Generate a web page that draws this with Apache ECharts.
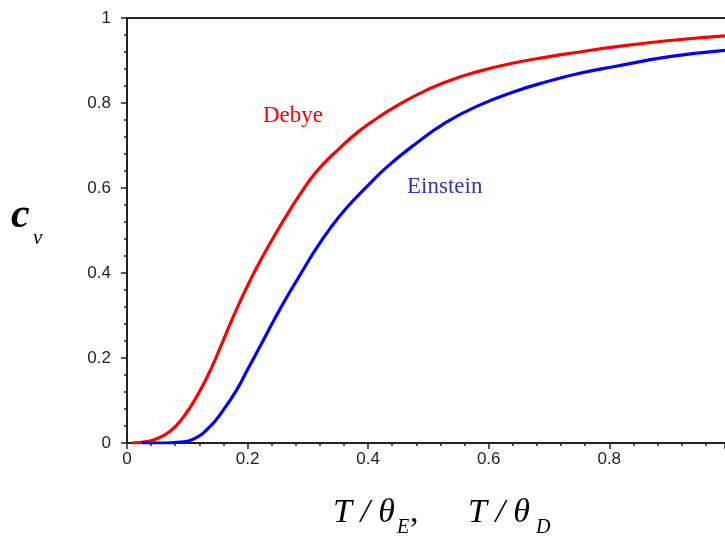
<!DOCTYPE html>
<html>
<head>
<meta charset="utf-8">
<script src="https://cdn.jsdelivr.net/npm/echarts@6/dist/echarts.min.js"></script>
<style>html,body{margin:0;padding:0;background:#fff;}#c{width:725px;height:545px;}</style>
</head>
<body>
<div id="c"></div>
<script>
// Values
var debyeT  = [0.008, 0.02, 0.03, 0.044, 0.071, 0.093, 0.116, 0.138, 0.154, 0.176, 0.199, 0.221, 0.237, 0.265, 0.287, 0.314, 0.353, 0.386, 0.42, 0.475, 0.53, 0.585, 0.641, 0.696, 0.751, 0.809, 0.9, 0.992];
var debyeCv = [0.0, 0.001, 0.003, 0.007, 0.027, 0.060, 0.110, 0.170, 0.222, 0.296, 0.367, 0.428, 0.469, 0.536, 0.585, 0.638, 0.694, 0.735, 0.769, 0.815, 0.850, 0.875, 0.894, 0.908, 0.920, 0.932, 0.947, 0.958];
var einsteinT  = [0.025, 0.06, 0.088, 0.11, 0.138, 0.16, 0.182, 0.199, 0.221, 0.243, 0.265, 0.292, 0.309, 0.337, 0.364, 0.397, 0.43, 0.475, 0.53, 0.585, 0.641, 0.696, 0.751, 0.809, 0.9, 0.992];
var einsteinCv = [0.0, 0.0, 0.002, 0.009, 0.039, 0.078, 0.125, 0.170, 0.228, 0.287, 0.343, 0.407, 0.447, 0.505, 0.553, 0.602, 0.648, 0.700, 0.755, 0.795, 0.826, 0.850, 0.870, 0.886, 0.909, 0.924];
var xMin = 0, xMax = 0.992, xStep = 0.2;
var yMin = 0, yMax = 1, yStep = 0.2;

function pairs(xs, ys){ return xs.map(function(x,i){ return [x, ys[i]]; }); }

var chart = echarts.init(document.getElementById('c'));
var labelFont = {fontFamily:'Liberation Sans, Arial, sans-serif', fontSize:17, color:'#222'};
var serif = 'Liberation Serif, Times New Roman, serif';
chart.setOption({
  animation:false,
  backgroundColor:'#fff',
  grid:{left:127, top:18, right:0, bottom:102, containLabel:false},
  xAxis:[{
    type:'value', min:xMin, max:xMax, interval:xStep, position:'bottom',
    axisLine:{show:true, onZero:false, lineStyle:{color:'#222', width:2}},
    axisTick:{show:true, length:6, lineStyle:{color:'#222', width:1.5}},
    minorTick:{show:true, splitNumber:5, length:3, lineStyle:{color:'#222', width:1.5}},
    splitLine:{show:false},
    axisLabel:Object.assign({margin:8, showMaxLabel:false}, labelFont)
  },{
    type:'value', min:xMin, max:xMax, position:'top',
    axisLine:{show:true, onZero:false, lineStyle:{color:'#222', width:2}},
    axisTick:{show:false}, axisLabel:{show:false}, splitLine:{show:false}
  }],
  yAxis:{
    type:'value', min:yMin, max:yMax, interval:yStep,
    axisLine:{show:true, lineStyle:{color:'#222', width:2}},
    axisTick:{show:true, length:6, lineStyle:{color:'#222', width:1.5}},
    minorTick:{show:true, splitNumber:5, length:3, lineStyle:{color:'#222', width:1.5}},
    splitLine:{show:false},
    axisLabel:Object.assign({margin:16}, labelFont)
  },
  series:[
    {type:'line', name:'Debye', data:pairs(debyeT, debyeCv), showSymbol:false, smooth:0.5,
     lineStyle:{color:'#ff0000', width:3.2}, itemStyle:{color:'#ff0000'}},
    {type:'line', name:'Einstein', data:pairs(einsteinT, einsteinCv), showSymbol:false, smooth:0.5,
     lineStyle:{color:'#0000ff', width:3.2}, itemStyle:{color:'#0000ff'}}
  ],
  graphic:[
    {type:'text', left:263, top:104, style:{text:'Debye', fill:'#ff0000', font:'23px ' + serif}},
    {type:'text', left:407, top:175, style:{text:'Einstein', fill:'#3333cc', font:'23px ' + serif}},
    // y axis title c_v
    {type:'text', left:11, top:195, style:{text:'c', fill:'#000', font:'italic bold 42px ' + serif}},
    {type:'text', left:33, top:228, style:{text:'v', fill:'#000', font:'italic 21px ' + serif}},
    // x axis title
    {type:'text', left:333, top:496, style:{text:'T / θ', fill:'#000', font:'italic 34px ' + serif}},
    {type:'text', left:397, top:518, style:{text:'E', fill:'#000', font:'italic 20px ' + serif}},
    {type:'text', left:410, top:496, style:{text:',', fill:'#000', font:'34px ' + serif}},
    {type:'text', left:468, top:496, style:{text:'T / θ', fill:'#000', font:'italic 34px ' + serif}},
    {type:'text', left:536, top:518, style:{text:'D', fill:'#000', font:'italic 20px ' + serif}}
  ]
});
</script>
</body>
</html>
